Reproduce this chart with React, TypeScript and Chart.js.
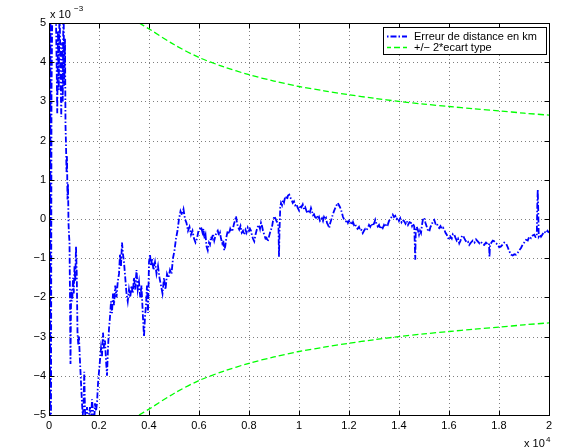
import React, { useEffect, useRef } from "react";
import { Chart, registerables } from "chart.js";

Chart.register(...registerables);

// ---------- data (x in units of 1e4, y in units of 1e-3) ----------
const xTickValues = [0, 0.2, 0.4, 0.6, 0.8, 1, 1.2, 1.4, 1.6, 1.8, 2];
const yTickValues = [-5, -4, -3, -2, -1, 0, 1, 2, 3, 4, 5];

const seriesLabels = ["Erreur de distance en km", "+/\u2212 2*ecart type"];

const errX = [
  0.0, 0.002, 0.004, 0.006, 0.008, 0.01, 0.014, 0.02, 0.026, 0.03, 0.033, 0.036, 0.039, 0.042, 0.046, 0.049,
  0.052, 0.055, 0.058, 0.061, 0.064, 0.066, 0.068, 0.07, 0.072, 0.074, 0.076, 0.078, 0.08, 0.082, 0.084, 0.086,
  0.088, 0.09, 0.093, 0.096, 0.099, 0.102, 0.105, 0.108, 0.111, 0.114, 0.117, 0.12, 0.123, 0.126, 0.129, 0.132,
  0.135, 0.138, 0.141, 0.144, 0.148, 0.152, 0.156, 0.16, 0.164, 0.168, 0.172, 0.176, 0.18, 0.184, 0.188, 0.192,
  0.196, 0.2, 0.204, 0.208, 0.212, 0.216, 0.22, 0.224, 0.228, 0.232, 0.236, 0.24, 0.244, 0.248, 0.252, 0.256,
  0.26, 0.265, 0.27, 0.275, 0.28, 0.284, 0.288, 0.292, 0.296, 0.3, 0.305, 0.31, 0.315, 0.32, 0.325, 0.33,
  0.335, 0.34, 0.345, 0.35, 0.355, 0.36, 0.365, 0.37, 0.375, 0.38, 0.384, 0.388, 0.392, 0.396, 0.4, 0.404,
  0.408, 0.412, 0.418, 0.424, 0.43, 0.436, 0.442, 0.448, 0.454, 0.46, 0.466, 0.472, 0.478, 0.484, 0.49, 0.496,
  0.502, 0.508, 0.514, 0.52, 0.526, 0.532, 0.538, 0.544, 0.55, 0.556, 0.562, 0.568, 0.574, 0.58, 0.586, 0.592,
  0.598, 0.604,
  0.608, 0.614, 0.618, 0.621, 0.626, 0.63, 0.635, 0.64, 0.644, 0.648, 0.652, 0.656, 0.661, 0.666, 0.67, 0.675,
  0.68, 0.684, 0.688, 0.693, 0.697, 0.701, 0.705, 0.71, 0.715, 0.72, 0.725, 0.73, 0.735, 0.74, 0.744, 0.748,
  0.752, 0.756, 0.761, 0.766, 0.771, 0.776, 0.781, 0.786, 0.79, 0.795, 0.8, 0.804, 0.808, 0.812, 0.816, 0.821,
  0.826, 0.83, 0.835, 0.84, 0.844, 0.848, 0.852, 0.856, 0.861, 0.866, 0.87, 0.875, 0.88, 0.884, 0.888, 0.892,
  0.896, 0.901, 0.905, 0.91, 0.915, 0.918, 0.92, 0.922, 0.925, 0.928, 0.932, 0.936, 0.94, 0.944, 0.948, 0.952,
  0.956, 0.961, 0.965, 0.97, 0.975, 0.98, 0.985, 0.99, 0.995, 1.0, 1.005, 1.01, 1.015, 1.02, 1.025, 1.03,
  1.035, 1.04, 1.044, 1.048, 1.052, 1.056, 1.06, 1.064, 1.068, 1.072, 1.076, 1.08, 1.084, 1.088, 1.092, 1.096,
  1.1, 1.104, 1.108, 1.112, 1.116, 1.121, 1.125, 1.13, 1.135, 1.14, 1.145, 1.15, 1.155, 1.16, 1.164, 1.168,
  1.172, 1.176, 1.18, 1.184, 1.188, 1.192, 1.196, 1.2, 1.204, 1.208, 1.212, 1.216, 1.22, 1.224, 1.228, 1.234,
  1.24, 1.245, 1.25, 1.255, 1.26, 1.265, 1.27, 1.275, 1.28, 1.285, 1.29, 1.295, 1.301, 1.305, 1.31, 1.315,
  1.32, 1.325, 1.33, 1.335, 1.34, 1.345, 1.35, 1.355, 1.36, 1.365, 1.37, 1.375, 1.38, 1.385, 1.39, 1.395,
  1.4, 1.405, 1.41, 1.415, 1.421, 1.426, 1.431, 1.436, 1.442, 1.448, 1.452, 1.456, 1.461, 1.463, 1.465, 1.467,
  1.471, 1.475, 1.48, 1.484, 1.488, 1.492, 1.496, 1.501, 1.506, 1.511, 1.516, 1.521, 1.526, 1.531, 1.536, 1.541,
  1.546, 1.551, 1.556, 1.561, 1.566, 1.571, 1.576, 1.581, 1.586, 1.591, 1.596, 1.601, 1.606, 1.611, 1.616, 1.621,
  1.626, 1.631, 1.636, 1.641, 1.646, 1.651, 1.656, 1.661, 1.666, 1.671, 1.676, 1.681, 1.688, 1.695, 1.702, 1.708,
  1.715, 1.722, 1.728, 1.735, 1.741, 1.748, 1.755, 1.76, 1.762, 1.764, 1.77, 1.775, 1.781, 1.788, 1.795, 1.801,
  1.808, 1.815, 1.821, 1.828, 1.835, 1.841, 1.848, 1.855, 1.861, 1.868, 1.875, 1.881, 1.888, 1.895, 1.901, 1.908,
  1.915, 1.921, 1.928, 1.935, 1.941, 1.946, 1.951, 1.953, 1.955, 1.957, 1.959, 1.964, 1.968, 1.975, 1.981, 1.988,
  1.994, 2.0,
];

const errY = [
  0.0, 5.6, -5.6, 5.5, -5.4, 3.2, 5.8, 5.5, 6.0, 4.2, 2.7, 4.8, 3.3, 5.6, 3.8, 2.6,
  4.5, 3.0, 5.7, 3.4, 4.6, 2.4, 1.9, 1.2, 1.6, 0.5, 0.9, -0.1, -0.4, -0.6, -2.0, -3.7,
  -2.2, -1.8, -2.1, -1.5, -1.9, -1.2, -1.6, -0.7, -1.4, -2.9, -3.2, -3.0, -3.5, -3.9, -4.3, -4.7,
  -5.0, -4.8, -3.9, -4.9, -5.3, -4.8, -5.4, -5.0, -4.8, -5.2, -4.6, -4.9, -5.3, -4.7, -4.9, -4.7,
  -4.2, -3.9, -3.6, -3.3, -3.5, -2.9, -3.3, -3.1, -3.6, -4.0, -3.3, -2.8, -2.5, -2.1, -2.4, -1.9,
  -2.2, -1.7, -2.0, -1.6, -1.4, -0.9, -1.2, -0.6, -0.9, -1.1, -1.5, -1.9, -2.1, -1.8, -2.0, -1.7,
  -1.9, -1.5, -1.8, -1.3, -1.8, -1.6, -2.0, -1.7, -2.4, -3.0, -2.5, -2.2, -1.7, -2.4, -1.1, -0.9,
  -1.2, -1.0, -1.3, -1.1, -1.4, -1.2, -1.5, -1.7, -1.9, -1.5, -1.8, -1.4, -1.5, -1.3, -1.4, -1.0,
  -0.8, -0.5, -0.3, 0.0, 0.2, 0.1, 0.25, 0.0, -0.1, -0.3, -0.2, -0.4, -0.3, -0.5, -0.6, -0.5,
  -0.3, -0.25,
  -0.2, -0.35, -0.25, -0.5, -0.4, -0.7, -0.8, -0.6, -0.65, -0.45, -0.5, -0.38, -0.55, -0.42, -0.35, -0.3,
  -0.42, -0.35, -0.5, -0.62, -0.55, -0.8, -0.7, -0.45, -0.3, -0.38, -0.25, -0.32, -0.27, -0.12, -0.05, 0.07,
  -0.1, -0.2, -0.27, -0.18, -0.35, -0.3, -0.4, -0.28, -0.35, -0.22, -0.3, -0.25, -0.3, -0.42, -0.5, -0.57,
  -0.4, -0.3, -0.2, -0.15, -0.25, -0.1, -0.18, -0.3, -0.4, -0.5, -0.48, -0.57, -0.45, -0.35, -0.27, -0.2,
  -0.05, 0.07, 0.02, -0.05, -0.1, -0.2, -0.96, -0.3, 0.3, 0.41, 0.35, 0.48, 0.42, 0.55, 0.58, 0.5,
  0.6, 0.62, 0.55, 0.5, 0.41, 0.45, 0.35, 0.38, 0.28, 0.22, 0.35, 0.3, 0.37, 0.25, 0.3, 0.2,
  0.15, 0.22, 0.18, 0.28, 0.2, 0.1, 0.12, 0.05, 0.03, 0.08, 0.0, 0.05, -0.05, -0.02, 0.02, -0.05,
  0.05, 0.0, 0.03, -0.1, -0.15, -0.23, -0.1, 0.0, 0.11, 0.2, 0.28, 0.35, 0.41, 0.35, 0.3, 0.24,
  0.15, 0.05, 0.0, -0.03, -0.06, -0.02, -0.1, -0.05, -0.12, -0.1, -0.15, -0.08, -0.15, -0.12, -0.19, -0.25,
  -0.2, -0.3, -0.28, -0.36, -0.3, -0.25, -0.28, -0.23, -0.15, -0.2, -0.12, -0.18, -0.1, -0.02, -0.12, -0.19,
  -0.15, -0.25, -0.18, -0.23, -0.15, -0.2, -0.12, -0.15, -0.05, 0.0, 0.05, 0.11, 0.05, 0.08, 0.0, 0.03,
  -0.05, 0.02, -0.08, -0.02, -0.06, -0.12, -0.05, -0.15, -0.08, -0.1, -0.18, -0.12, -0.19, -0.6, -1.04, -0.3,
  -0.2, -0.27, -0.4, -0.3, -0.36, -0.15, 0.0, 0.03, -0.1, -0.2, -0.3, -0.32, -0.2, -0.15, -0.05, -0.02,
  -0.12, -0.1, -0.2, -0.23, -0.18, -0.25, -0.22, -0.27, -0.35, -0.4, -0.48, -0.53, -0.45, -0.5, -0.38, -0.4,
  -0.48, -0.55, -0.5, -0.62, -0.55, -0.45, -0.42, -0.49, -0.55, -0.6, -0.58, -0.66, -0.6, -0.55, -0.6, -0.52,
  -0.57, -0.62, -0.58, -0.65, -0.66, -0.6, -0.64, -0.62, -0.96, -0.65, -0.6, -0.55, -0.57, -0.62, -0.65, -0.72,
  -0.7, -0.65, -0.6, -0.62, -0.72, -0.82, -0.91, -0.93, -0.9, -0.91, -0.86, -0.8, -0.74, -0.65, -0.6, -0.53,
  -0.55, -0.45, -0.49, -0.42, -0.4, -0.46, -0.45, 0.3, 0.75, 0.2, -0.45, -0.4, -0.45, -0.38, -0.32, -0.36,
  -0.3, -0.35,
];

const bandX = [0.36, 0.4, 0.5, 0.6, 0.7, 0.8, 0.9, 1.0, 1.1, 1.2, 1.3, 1.4, 1.5, 1.6, 1.7, 1.8, 1.9, 2.0];
const bandUpper = [5.0, 4.85, 4.45, 4.12, 3.88, 3.68, 3.52, 3.38, 3.27, 3.17, 3.08, 3.0, 2.93, 2.87, 2.81, 2.76, 2.7, 2.65];
const bandLower = [-5.0, -4.85, -4.45, -4.12, -3.88, -3.68, -3.52, -3.38, -3.27, -3.17, -3.08, -3.0, -2.93, -2.87, -2.81, -2.76, -2.7, -2.65];

// ---------- styles ----------
const FONT = '"Liberation Sans", Arial, Helvetica, sans-serif';
const BLUE = "#0000ff";
const GREEN = "#00ff00";
const BLUE_DASH = [6, 2, 1.5, 2];
const GREEN_DASH = [6, 3];

const fmtTick = (v: number) => String(Number(Number(v).toFixed(1)));

const matlabPlugin = {
  id: "matlabLook",
  beforeDatasetsDraw(chart: any) {
    const { ctx, chartArea: a, scales } = chart;
    const x = scales.x;
    const y = scales.y;
    ctx.save();
    ctx.strokeStyle = "rgba(0,0,0,0.5)";
    ctx.lineWidth = 1;
    ctx.setLineDash([1, 3]);
    for (const v of xTickValues) {
      const px = Math.round(x.getPixelForValue(v)) + 0.5;
      if (px <= a.left + 1 || px >= a.right - 1) continue;
      ctx.beginPath();
      ctx.moveTo(px, a.top);
      ctx.lineTo(px, a.bottom);
      ctx.stroke();
    }
    for (const v of yTickValues) {
      const py = Math.round(y.getPixelForValue(v)) + 0.5;
      if (py <= a.top + 1 || py >= a.bottom - 1) continue;
      ctx.beginPath();
      ctx.moveTo(a.left, py);
      ctx.lineTo(a.right, py);
      ctx.stroke();
    }
    ctx.restore();
  },
  afterDatasetsDraw(chart: any) {
    const { ctx, chartArea: a, scales } = chart;
    const x = scales.x;
    const y = scales.y;
    const L = Math.round(a.left) + 0.5;
    const R = Math.round(a.right) + 0.5;
    const T = Math.round(a.top) + 0.5;
    const B = Math.round(a.bottom) + 0.5;
    ctx.save();
    ctx.strokeStyle = "#000";
    ctx.lineWidth = 1;
    ctx.setLineDash([]);
    ctx.strokeRect(L, T, R - L, B - T);
    const tl = 5;
    ctx.beginPath();
    for (const v of xTickValues) {
      const px = Math.round(x.getPixelForValue(v)) + 0.5;
      ctx.moveTo(px, B);
      ctx.lineTo(px, B - tl);
      ctx.moveTo(px, T);
      ctx.lineTo(px, T + tl);
    }
    for (const v of yTickValues) {
      const py = Math.round(y.getPixelForValue(v)) + 0.5;
      ctx.moveTo(L, py);
      ctx.lineTo(L + tl, py);
      ctx.moveTo(R, py);
      ctx.lineTo(R - tl, py);
    }
    ctx.stroke();
    ctx.restore();
  },
  afterDraw(chart: any) {
    const { ctx, chartArea: a } = chart;
    ctx.save();
    ctx.fillStyle = "#000";
    ctx.textBaseline = "alphabetic";
    ctx.textAlign = "left";
    // exponent labels
    ctx.font = `11px ${FONT}`;
    ctx.fillText("x 10", a.left + 1, 18);
    ctx.font = `8px ${FONT}`;
    ctx.fillText("\u22123", a.left + 25, 11);
    ctx.font = `11px ${FONT}`;
    ctx.fillText("x 10", a.right - 25, 447);
    ctx.font = `8px ${FONT}`;
    ctx.fillText("4", a.right - 3, 442);

    // legend box
    const bx = 383.5, by = 27.5, bw = 163, bh = 27;
    ctx.fillStyle = "#fff";
    ctx.fillRect(bx, by, bw, bh);
    ctx.strokeStyle = "#000";
    ctx.lineWidth = 1;
    ctx.strokeRect(bx, by, bw, bh);
    const rows = [
      { label: seriesLabels[0], color: BLUE, dash: BLUE_DASH, w: 1.8, yy: 36.5, off: 8 },
      { label: seriesLabels[1], color: GREEN, dash: GREEN_DASH, w: 1.3, yy: 47.5, off: 2 },
    ];
    for (const r of rows) {
      ctx.strokeStyle = r.color;
      ctx.lineWidth = r.w;
      ctx.setLineDash(r.dash);
      ctx.lineDashOffset = r.off;
      ctx.beginPath();
      ctx.moveTo(387, r.yy);
      ctx.lineTo(407, r.yy);
      ctx.stroke();
      ctx.setLineDash([]);
      ctx.lineDashOffset = 0;
      ctx.fillStyle = "#000";
      ctx.font = `11px ${FONT}`;
      ctx.textBaseline = "middle";
      ctx.fillText(r.label, 414, r.yy);
    }
    ctx.restore();
  },
};

export default function App() {
  const canvasRef = useRef<HTMLCanvasElement | null>(null);

  useEffect(() => {
    document.body.style.margin = "0";
    const canvas = canvasRef.current;
    if (!canvas) return;

    const errData = errX.map((xv, i) => ({ x: xv, y: errY[i] }));
    const upData = bandX.map((xv, i) => ({ x: xv, y: bandUpper[i] }));
    const loData = bandX.map((xv, i) => ({ x: xv, y: bandLower[i] }));

    const tickFont = { family: FONT, size: 11 };

    const chart = new Chart(canvas, {
      type: "line",
      data: {
        datasets: [
          {
            label: seriesLabels[0],
            data: errData,
            borderColor: BLUE,
            borderWidth: 1.8,
            borderDash: BLUE_DASH,
            pointRadius: 0,
            tension: 0,
            fill: false,
          },
          {
            label: seriesLabels[1],
            data: upData,
            borderColor: GREEN,
            borderWidth: 1.3,
            borderDash: GREEN_DASH,
            pointRadius: 0,
            tension: 0.3,
            fill: false,
          },
          {
            label: seriesLabels[1] + " (bas)",
            data: loData,
            borderColor: GREEN,
            borderWidth: 1.3,
            borderDash: GREEN_DASH,
            pointRadius: 0,
            tension: 0.3,
            fill: false,
          },
        ],
      },
      options: {
        animation: false,
        responsive: false,
        layout: { padding: { top: 23, right: 21, left: 0, bottom: 0 } },
        plugins: {
          legend: { display: false },
          tooltip: { enabled: false },
        },
        scales: {
          x: {
            type: "linear",
            min: 0,
            max: 2,
            grid: { display: false, drawTicks: false },
            border: { display: false },
            afterBuildTicks: (s: any) => {
              s.ticks = xTickValues.map((v) => ({ value: v }));
            },
            afterFit: (s: any) => {
              s.height = 33;
            },
            ticks: {
              autoSkip: false,
              maxRotation: 0,
              color: "#000",
              padding: 4,
              font: tickFont,
              callback: (v: any) => fmtTick(v),
            },
          },
          y: {
            type: "linear",
            min: -5,
            max: 5,
            grid: { display: false, drawTicks: false },
            border: { display: false },
            afterBuildTicks: (s: any) => {
              s.ticks = yTickValues.map((v) => ({ value: v }));
            },
            afterFit: (s: any) => {
              s.width = 49;
            },
            ticks: {
              autoSkip: false,
              color: "#000",
              padding: 3,
              font: tickFont,
              callback: (v: any) => String(v).replace("-", "\u2212"),
            },
          },
        },
      },
      plugins: [matlabPlugin],
    } as any);

    return () => {
      chart.destroy();
    };
  }, []);

  return (
    <div style={{ width: 570, height: 448, background: "#fff" }}>
      <canvas ref={canvasRef} width={570} height={448} style={{ display: "block" }} />
    </div>
  );
}
